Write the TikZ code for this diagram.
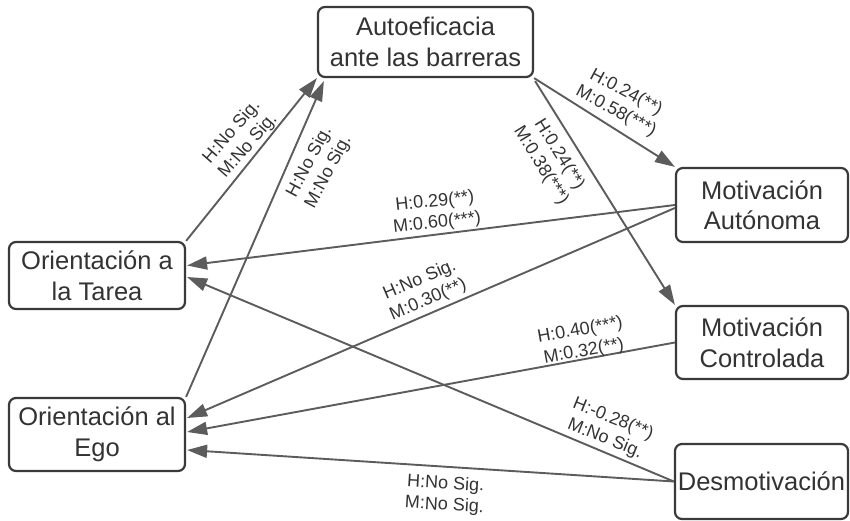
\documentclass[tikz,border=0pt]{standalone}
\usepackage{fontspec}
\setmainfont{Liberation Sans}
\usetikzlibrary{arrows.meta,calc}
\definecolor{boxline}{HTML}{3A3A3A}
\definecolor{edgecol}{HTML}{5C5C5C}
\definecolor{txt}{HTML}{333333}

\begin{document}
\begin{tikzpicture}[x=1pt,y=-1pt,
  box/.style={draw=boxline, line width=2.2pt, rounded corners=7pt, fill=white,
    text=txt, align=center, inner sep=0pt, font=\fontsize{25.5}{30.5}\selectfont},
  link/.style={draw=edgecol, line width=1.9pt, -{Triangle[length=20pt,width=13pt]}},
  lbl/.style={text=txt, align=center, inner sep=0pt, font=\fontsize{18}{21.5}\selectfont}]
\useasboundingbox (0,0) rectangle (850,521);

% constructs
\node[box, minimum width=215pt, minimum height=70pt] (auto) at (425.5,42) {Autoeficacia\\ante las barreras};
\node[box, minimum width=172pt, minimum height=74pt] (auton) at (762,205) {Motivación\\Autónoma};
\node[box, minimum width=172pt, minimum height=73pt] (contr) at (762,342.5) {Motivación\\Controlada};
\node[box, minimum width=173pt, minimum height=75pt] (desm) at (761.5,481.5) {Desmotivación};
\node[box, minimum width=176pt, minimum height=67pt] (tarea) at (97,275.5) {Orientación a\\la Tarea};
\node[box, minimum width=176pt, minimum height=73pt] (ego) at (97,434.5) {Orientación al\\Ego};

% paths
\draw[link] (tarea.north east) -- (auto.south west);
\draw[link] (ego.north east) -- ($(auto.south west)+(7,3)$);
\draw[link] (auto.south east) -- (auton.north west);
\draw[link] ($(auto.south east)+(1,3)$) -- (contr.north west);
\draw[link] (auton.west) -- ($(tarea.east)+(1,-10)$);
\draw[link] ($(auton.west)+(0,3)$) -- ($(ego.east)+(1,-16.5)$);
\draw[link] (contr.west) -- ($(ego.east)+(1,-2.5)$);
\draw[link] (desm.west) -- ($(tarea.east)+(1,1.5)$);
\draw[link] (desm.west) -- ($(ego.east)+(1,15.5)$);

% coefficients
\node[lbl, rotate=49] (la) at (240,139) {H:No Sig.\\M:No Sig.};
\node[lbl, rotate=62] (lb) at (319,167) {H:No Sig.\\M:No Sig.};
\node[lbl, rotate=-28] (lc) at (621,102) {H:0.24(**)\\M:0.58(***)};
\node[lbl, rotate=-58] (ld) at (550,160) {H:0.24(**)\\M:0.38(***)};
\node[lbl, rotate=6] (le) at (436,212.5) {H:0.29(**)\\M:0.60(***)};
\node[lbl, rotate=23] (lf) at (424,290) {H:No Sig.\\M:0.30(**)};
\node[lbl, rotate=10] (lg) at (582,341) {H:0.40(***)\\M:0.32(**)};
\node[lbl, rotate=-22] (lh) at (609,429) {H:-0.28(**)\\M:No Sig.};
\node[lbl, rotate=-3.5] (li) at (445,495) {H:No Sig.\\M:No Sig.};
\end{tikzpicture}
\end{document}
